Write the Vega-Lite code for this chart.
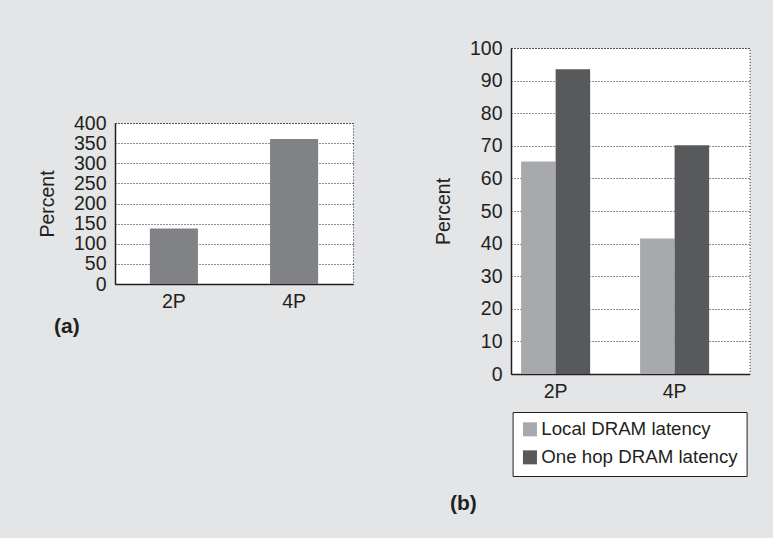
{
  "$schema": "https://vega.github.io/schema/vega-lite/v6.json",
  "background": "#e4e5e6",
  "padding": {"left": 36, "top": 37, "right": 24, "bottom": 24},
  "spacing": 78,
  "resolve": {"legend": {"color": "independent"}, "scale": {"color": "independent"}},
  "config": {
    "font": "Liberation Sans",
    "view": {"fill": "white", "stroke": "#231f20", "strokeDash": [1, 2], "strokeWidth": 1},
    "axis": {
      "labelFont": "Liberation Sans",
      "labelFontSize": 19.5,
      "labelColor": "#231f20",
      "titleFont": "Liberation Sans",
      "titleFontSize": 19.5,
      "titleFontWeight": "normal",
      "titleColor": "#231f20",
      "domainColor": "#231f20",
      "domainWidth": 1.5,
      "ticks": false,
      "gridColor": "#231f20",
      "gridDash": [1, 2],
      "gridWidth": 1,
      "gridOpacity": 1
    },
    "axisX": {"grid": false, "labelAngle": 0, "labelPadding": 8},
    "axisY": {"labelPadding": 9, "titlePadding": 16, "labelOverlap": false, "labelBound": false},
    "title": {"font": "Liberation Sans", "fontSize": 21, "fontWeight": "bold", "color": "#231f20", "orient": "bottom", "anchor": "start", "frame": "group", "dx": -61}
  },
  "datasets": {
    "a": [
      {"config": "2P", "percent": 138},
      {"config": "4P", "percent": 360}
    ],
    "b": [
      {"config": "2P", "latency": "Local DRAM latency", "percent": 65.2},
      {"config": "2P", "latency": "One hop DRAM latency", "percent": 93.5},
      {"config": "4P", "latency": "Local DRAM latency", "percent": 41.6},
      {"config": "4P", "latency": "One hop DRAM latency", "percent": 70.2}
    ]
  },
  "hconcat": [
    {
      "spacing": 0,
      "vconcat": [
        {
          "width": 238,
          "height": 64,
          "data": {"values": []},
          "mark": "point",
          "view": {"fill": null, "stroke": null}
        },
        {
          "width": 238,
          "height": 161,
          "title": {"text": "(a)", "offset": 5},
          "data": {"name": "a"},
          "mark": {"type": "bar", "color": "#808285"},
          "encoding": {
            "x": {"field": "config", "type": "nominal", "scale": {"paddingInner": 0.6, "paddingOuter": 0.29}, "axis": {"title": null}},
            "y": {"field": "percent", "type": "quantitative", "scale": {"domain": [0, 400]}, "axis": {"values": [0, 50, 100, 150, 200, 250, 300, 350, 400], "title": "Percent"}}
          }
        }
      ]
    },
    {
      "width": 238.6,
      "height": 326,
      "title": {"text": "(b)", "offset": 16},
      "data": {"name": "b"},
      "mark": "bar",
      "encoding": {
        "x": {"field": "config", "type": "nominal", "scale": {"paddingInner": 0.42, "paddingOuter": 0.2126, "align": 0.2}, "axis": {"title": null}},
        "xOffset": {"field": "latency", "type": "nominal", "sort": ["Local DRAM latency", "One hop DRAM latency"], "scale": {"paddingInner": 0, "paddingOuter": 0}},
        "y": {"field": "percent", "type": "quantitative", "scale": {"domain": [0, 100]}, "axis": {"values": [0, 10, 20, 30, 40, 50, 60, 70, 80, 90, 100], "title": "Percent"}},
        "color": {
          "field": "latency",
          "type": "nominal",
          "scale": {"domain": ["Local DRAM latency", "One hop DRAM latency"], "range": ["#a7a9ac", "#58595b"]},
          "legend": {
            "orient": "none",
            "legendX": 1.6,
            "legendY": 364,
            "title": null,
            "direction": "vertical",
            "strokeColor": "#231f20",
            "fillColor": "white",
            "padding": 8,
            "symbolType": "square",
            "symbolSize": 196,
            "symbolStrokeWidth": 0,
            "labelFont": "Liberation Sans",
            "labelFontSize": 18.7,
            "labelColor": "#231f20",
            "labelOffset": 2,
            "labelLimit": 300,
            "rowPadding": 8
          }
        }
      }
    }
  ]
}
